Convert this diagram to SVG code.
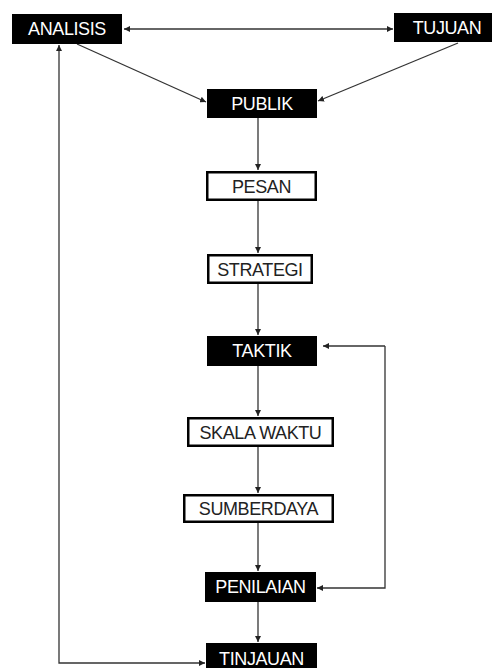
<svg xmlns="http://www.w3.org/2000/svg" width="492" height="668" viewBox="0 0 492 668">
<defs>
<marker id="ah" viewBox="0 0 6 6" refX="6" refY="3" markerWidth="6" markerHeight="6" markerUnits="userSpaceOnUse" orient="auto-start-reverse">
<path d="M0,0 L6,3 L0,6 z" fill="#222"/>
</marker>
<style>
.dark rect{fill:#000;}
.light rect{fill:#fff;stroke:#000;stroke-width:2.5;}
text{font-family:"Liberation Sans",Arial,sans-serif;font-size:18px;text-anchor:middle;dominant-baseline:central;letter-spacing:-0.4px;}
.dark text{fill:#fff;}
.light text{fill:#222;}
.conn path{fill:none;stroke:#333;stroke-width:1.3;marker-end:url(#ah);}
</style>
</defs>
<rect width="492" height="668" fill="#fff"/>
<g class="conn">
<path d="M124,29 L393,29" marker-start="url(#ah)"/>
<path d="M77,44 L206,102"/>
<path d="M458,43 L318,101"/>
<path d="M258,118 L258,170"/>
<path d="M258,201 L258,253"/>
<path d="M258,284 L258,335"/>
<path d="M258,366 L258,416"/>
<path d="M258,447 L258,493"/>
<path d="M258,523 L258,571"/>
<path d="M258,602 L258,642"/>
<path d="M385,346 L323,346"/>
<path d="M385,346 L385,588 L317,588"/>
<path d="M59,45 L59,663 L205,663" marker-start="url(#ah)"/>
</g>
<g id="analisis" class="dark"><rect x="12" y="14" width="110" height="30"/><text x="67" y="29">ANALISIS</text></g>
<g id="tujuan" class="dark"><rect x="394" y="13" width="98" height="29"/><text x="447" y="28">TUJUAN</text></g>
<g id="publik" class="dark"><rect x="207" y="89" width="110" height="29"/><text x="262" y="104">PUBLIK</text></g>
<g id="pesan" class="light"><rect x="207.25" y="172.25" width="108.5" height="27.5"/><text x="261.5" y="186.5">PESAN</text></g>
<g id="strategi" class="light"><rect x="208.25" y="255.25" width="103.5" height="27.5"/><text x="260" y="269.5">STRATEGI</text></g>
<g id="taktik" class="dark"><rect x="207" y="336" width="110" height="30"/><text x="262" y="351">TAKTIK</text></g>
<g id="skala-waktu" class="light"><rect x="188.25" y="418.25" width="144.5" height="27.5"/><text x="260.5" y="432.5">SKALA WAKTU</text></g>
<g id="sumberdaya" class="light"><rect x="184.25" y="495.25" width="148.5" height="26.5"/><text x="258.5" y="509">SUMBERDAYA</text></g>
<g id="penilaian" class="dark"><rect x="205" y="572" width="111" height="30"/><text x="260.5" y="587">PENILAIAN</text></g>
<g id="tinjauan" class="dark"><rect x="206" y="643" width="111" height="28"/><text x="261.5" y="658.5">TINJAUAN</text></g>
</svg>
